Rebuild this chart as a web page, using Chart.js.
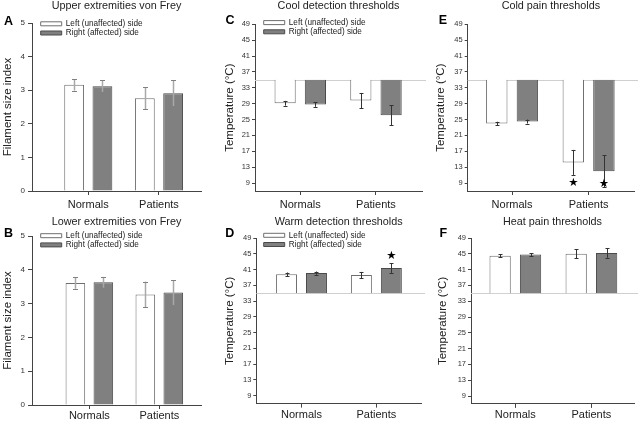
<!DOCTYPE html>
<html>
<head>
<meta charset="utf-8">
<script src="https://cdn.jsdelivr.net/npm/chart.js@4.4.0/dist/chart.umd.min.js"></script>
<style>
    html, body { margin: 0; padding: 0; background: #fff; }
    #fig { position: relative; width: 639px; height: 421px; overflow: hidden; }
    #fig canvas { position: absolute; }
</style>
</head>
<body>
<div id="fig">
    <canvas id="pA" width="213" height="210" style="left:0;top:0"></canvas>
    <canvas id="pB" width="213" height="211" style="left:0;top:210px"></canvas>
    <canvas id="pC" width="213" height="210" style="left:213px;top:0"></canvas>
    <canvas id="pD" width="213" height="211" style="left:213px;top:210px"></canvas>
    <canvas id="pE" width="213" height="210" style="left:426px;top:0"></canvas>
    <canvas id="pF" width="213" height="211" style="left:426px;top:210px"></canvas>
</div>
<script>
// categories / series names
const groups = ["Normals", "Patients"];
const sides = ["Left (unaffected) side", "Right (affected) side"];

// tick labels
const vonFreyTicks = [0, 1, 2, 3, 4, 5];
const tempTicks = [9, 13, 17, 21, 25, 29, 33, 37, 41, 45, 49];

// A - upper extremities von Frey (mean, error)
const upperLeft = [3.16, 2.76];
const upperLeftErr = [0.17, 0.33];
const upperRight = [3.12, 2.91];
const upperRightErr = [0.18, 0.39];

// B - lower extremities von Frey
const lowerLeft = [3.61, 3.27];
const lowerLeftErr = [0.17, 0.38];
const lowerRight = [3.63, 3.33];
const lowerRightErr = [0.16, 0.37];

// C - cool detection thresholds (°C)
const coolLeft = [29.1, 29.8];
const coolLeftErr = [0.6, 1.9];
const coolRight = [28.8, 26.1];
const coolRightErr = [0.6, 2.5];

// D - warm detection thresholds
const warmLeft = [39.8, 39.6];
const warmLeftErr = [0.45, 0.8];
const warmRight = [40.1, 41.4];
const warmRightErr = [0.4, 1.25];
const warmRightStars = [null, 44.5];

// E - cold pain thresholds
const coldLeft = [24.0, 14.2];
const coldLeftErr = [0.45, 3.15];
const coldRight = [24.5, 12.0];
const coldRightErr = [0.5, 4.0];
const coldLeftStars = [null, 9.1];
const coldRightStars = [null, 8.7];

// F - heat pain thresholds
const heatLeft = [44.5, 45.0];
const heatLeftErr = [0.35, 1.1];
const heatRight = [44.8, 45.2];
const heatRightErr = [0.35, 1.2];

const baselineTemp = 35;

Chart.defaults.font.family = "'Liberation Sans', Arial, sans-serif";
Chart.defaults.color = "#222";

const fills = ["#ffffff", "#808080"];
const edges = ["#6e6e6e", "#4a4a4a"];

// extras: legend placement, baseline, error bars, stars, panel letter
const extrasPlugin = {
    id: "extras",
    afterLayout(chart, args, o) {
        const lg = chart.legend;
        if (!o.legendAt || !lg || !lg.options.display) return;
        const p = o.legendPad, f = o.legendFont;
        const dx = o.legendAt[0] - (lg.left + p);
        const dy = o.legendAt[1] - (lg.top + p + f / 2);
        lg.left += dx; lg.right += dx;
        lg.top += dy; lg.bottom += dy;
    },
    beforeDatasetsDraw(chart, args, o) {
        if (o.refLine == null) return;
        const ctx = chart.ctx, area = chart.chartArea;
        const y = Math.round(chart.scales.y.getPixelForValue(o.refLine)) + 0.5;
        ctx.save();
        ctx.strokeStyle = "#cfcfcf";
        ctx.lineWidth = 1;
        ctx.beginPath();
        ctx.moveTo(area.left, y);
        ctx.lineTo(area.right + 4, y);
        ctx.stroke();
        ctx.restore();
    },
    afterDatasetsDraw(chart, args, o) {
        const ctx = chart.ctx, ys = chart.scales.y;
        ctx.save();
        chart.data.datasets.forEach((ds, d) => {
            const meta = chart.getDatasetMeta(d);
            meta.data.forEach((bar, i) => {
                const v = ds.data[i].y, e = ds.errors[i];
                const x = Math.round(bar.x) + 0.5;
                const yt = ys.getPixelForValue(v + e);
                const yb = ys.getPixelForValue(v - e);
                ctx.strokeStyle = o.errColor;
                ctx.lineWidth = o.errWidth;
                ctx.beginPath();
                ctx.moveTo(x, yt);
                ctx.lineTo(x, yb);
                ctx.stroke();
                ctx.strokeStyle = o.capColor;
                ctx.lineWidth = 1;
                ctx.beginPath();
                ctx.moveTo(x - o.cap, Math.round(yt) + 0.5);
                ctx.lineTo(x + o.cap, Math.round(yt) + 0.5);
                ctx.moveTo(x - o.cap, Math.round(yb) + 0.5);
                ctx.lineTo(x + o.cap, Math.round(yb) + 0.5);
                ctx.stroke();
                const s = ds.stars ? ds.stars[i] : null;
                if (s != null) {
                    ctx.fillStyle = "#000";
                    ctx.font = "11.5px 'DejaVu Sans'";
                    ctx.textAlign = "center";
                    ctx.textBaseline = "middle";
                    ctx.fillText("\u2605", bar.x, ys.getPixelForValue(s));
                }
            });
        });
        ctx.restore();
    },
    afterDraw(chart, args, o) {
        if (!o.letter) return;
        const ctx = chart.ctx;
        ctx.save();
        ctx.fillStyle = "#000";
        ctx.font = "bold 12.5px 'Liberation Sans', Arial, sans-serif";
        ctx.textAlign = "center";
        ctx.textBaseline = "alphabetic";
        ctx.fillText(o.letter[0], o.letter[1], o.letter[2]);
        ctx.restore();
    }
};

function panel(p) {
    const canvas = document.getElementById(p.id);
    const w = canvas.width, h = canvas.height, a = p.area;
    const titleSize = 10.8, titleLH = titleSize * 1.2;
    const titleTop = p.titleY - titleLH / 2;
    const legendFont = 8.2, legendPad = 1;
    const temp = p.base != null;

    const datasets = p.series.map((s, k) => ({
        label: sides[k],
        data: s.values.map((v, i) => ({ x: i, y: v })),
        errors: s.errors,
        stars: s.stars,
        backgroundColor: fills[k],
        borderColor: edges[k],
        borderWidth: 1,
        base: p.base,
        categoryPercentage: 0.8,
        barPercentage: 0.7
    }));

    return new Chart(canvas, {
        type: "bar",
        data: { datasets },
        plugins: [extrasPlugin],
        options: {
            responsive: false,
            animation: false,
            events: [],
            layout: { padding: { left: 0, top: 0, bottom: 0, right: w - a.right } },
            scales: {
                x: {
                    type: "linear",
                    min: p.x[0],
                    max: p.x[1],
                    offset: false,
                    afterBuildTicks: s => { s.ticks = groups.map((g, i) => ({ value: i })); },
                    afterFit: s => { s.height = h - a.bottom; },
                    ticks: {
                        callback: v => groups[v],
                        font: { size: 11 },
                        color: "#222",
                        padding: p.xPad,
                        autoSkip: false,
                        maxRotation: 0
                    },
                    grid: { drawOnChartArea: false, tickLength: 4, color: "#444", offset: false },
                    border: { color: "#444", width: 1 }
                },
                y: {
                    min: p.y[0],
                    max: p.y[1],
                    afterBuildTicks: s => { s.ticks = p.yTicks.map(v => ({ value: v })); },
                    afterFit: s => { s.width = a.left; },
                    ticks: {
                        font: { size: p.yFont },
                        color: "#333",
                        padding: p.yTick[1]
                    },
                    grid: { drawOnChartArea: false, tickLength: p.yTick[0], color: "#444" },
                    border: { color: "#444", width: 1 },
                    title: {
                        display: true,
                        text: p.yTitle,
                        font: { size: 11.5 },
                        color: "#222",
                        padding: { top: p.yTitlePad, bottom: 0 }
                    }
                }
            },
            plugins: {
                tooltip: { enabled: false },
                title: {
                    display: true,
                    text: p.title,
                    fullSize: false,
                    color: "#222",
                    font: { size: titleSize, weight: "normal" },
                    padding: { top: titleTop, bottom: a.top - titleLH - titleTop }
                },
                legend: {
                    display: !!p.legendAt,
                    position: "chartArea",
                    align: "start",
                    labels: {
                        boxWidth: 21,
                        boxHeight: 4,
                        padding: legendPad,
                        color: "#222",
                        font: { size: legendFont }
                    }
                },
                extras: {
                    legendAt: p.legendAt,
                    legendPad,
                    legendFont,
                    refLine: temp ? baselineTemp : null,
                    errColor: temp ? "#333" : "#a8a8a8",
                    capColor: temp ? "#333" : "#808080",
                    errWidth: temp ? 1 : 1.5,
                    cap: temp ? 2 : 2.5,
                    letter: p.letter
                }
            }
        }
    });
}

panel({
    id: "pA", area: { left: 32, right: 201, top: 23, bottom: 191 },
    x: [-0.796, 1.594], y: [0, 5], yTicks: vonFreyTicks, yFont: 8, yTick: [4, 3],
    title: "Upper extremities von Frey", titleY: 6.3,
    yTitle: "Filament size index", yTitlePad: 1,
    letter: ["A", 8.5, 25], legendAt: [40.7, 23.8], xPad: 3.5,
    series: [
        { values: upperLeft, errors: upperLeftErr },
        { values: upperRight, errors: upperRightErr }
    ]
});

panel({
    id: "pB", area: { left: 32, right: 201, top: 26, bottom: 195 },
    x: [-0.82, 1.596], y: [0, 5], yTicks: vonFreyTicks, yFont: 8, yTick: [4, 3],
    title: "Lower extremities von Frey", titleY: 12.5,
    yTitle: "Filament size index", yTitlePad: 1.3,
    letter: ["B", 8.5, 26.7], legendAt: [40.7, 25.7], xPad: 0.5,
    series: [
        { values: lowerLeft, errors: lowerLeftErr },
        { values: lowerRight, errors: lowerRightErr }
    ]
});

panel({
    id: "pC", area: { left: 42, right: 209, top: 24.3, bottom: 191 },
    x: [-0.598, 1.608], y: [7, 49], yTicks: tempTicks, yFont: 7.5, yTick: [3, 2],
    title: "Cool detection thresholds", titleY: 6.3,
    yTitle: "Temperature (\u00B0C)", yTitlePad: 10, base: baselineTemp,
    letter: ["C", 17, 24], legendAt: [50.7, 22.6], xPad: 3.5,
    series: [
        { values: coolLeft, errors: coolLeftErr },
        { values: coolRight, errors: coolRightErr }
    ]
});

panel({
    id: "pD", area: { left: 43.3, right: 208, top: 28, bottom: 193.6 },
    x: [-0.604, 1.596], y: [7, 49], yTicks: tempTicks, yFont: 7.5, yTick: [3, 2],
    title: "Warm detection thresholds", titleY: 12.5,
    yTitle: "Temperature (\u00B0C)", yTitlePad: 9.5, base: baselineTemp,
    letter: ["D", 16.7, 27.3], legendAt: [50.7, 25.3], xPad: 0.5,
    series: [
        { values: warmLeft, errors: warmLeftErr },
        { values: warmRight, errors: warmRightErr, stars: warmRightStars }
    ]
});

panel({
    id: "pE", area: { left: 41.7, right: 208, top: 24.3, bottom: 191 },
    x: [-0.58, 1.593], y: [7, 49], yTicks: tempTicks, yFont: 7.5, yTick: [3, 2],
    title: "Cold pain thresholds", titleY: 6.3,
    yTitle: "Temperature (\u00B0C)", yTitlePad: 8, base: baselineTemp,
    letter: ["E", 17, 24], legendAt: null, xPad: 3.5,
    series: [
        { values: coldLeft, errors: coldLeftErr, stars: coldLeftStars },
        { values: coldRight, errors: coldRightErr, stars: coldRightStars }
    ]
});

panel({
    id: "pF", area: { left: 45, right: 208, top: 28, bottom: 193.9 },
    x: [-0.583, 1.56], y: [7, 49], yTicks: tempTicks, yFont: 7.5, yTick: [3, 2],
    title: "Heat pain thresholds", titleY: 12.5,
    yTitle: "Temperature (\u00B0C)", yTitlePad: 10, base: baselineTemp,
    letter: ["F", 17.3, 27.3], legendAt: null, xPad: 0.5,
    series: [
        { values: heatLeft, errors: heatLeftErr },
        { values: heatRight, errors: heatRightErr }
    ]
});
</script>
</body>
</html>
